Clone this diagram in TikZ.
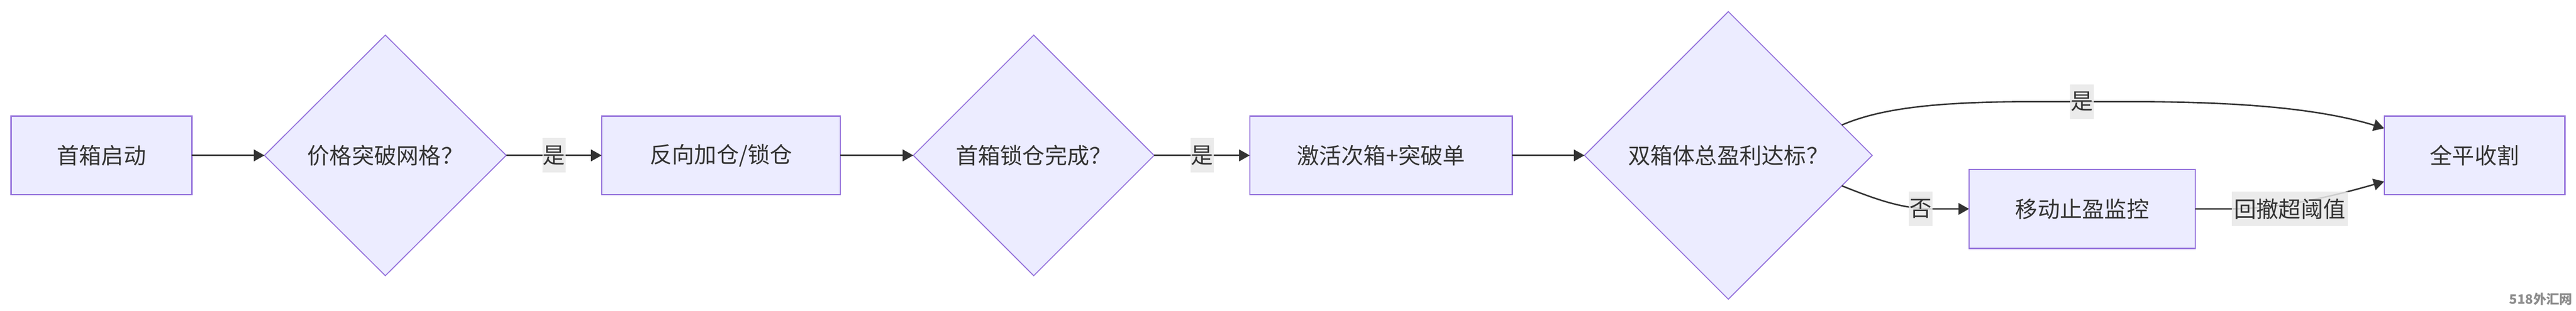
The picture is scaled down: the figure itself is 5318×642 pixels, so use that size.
\documentclass[tikz,border=0pt]{standalone}
\usepackage{fontspec}
\setmainfont{Noto Sans CJK SC}
\usetikzlibrary{shapes.geometric, arrows.meta}
\definecolor{nodefill}{HTML}{ECECFF}
\definecolor{nodeline}{HTML}{9370DB}
\definecolor{ink}{HTML}{333333}
\definecolor{lblbg}{HTML}{E8E8E8}
\definecolor{wmgray}{HTML}{8C8C8C}
\begin{document}
\begin{tikzpicture}[x=1pt, y=-1pt,
  every node/.style={font=\fontsize{46}{56}\selectfont, text=ink},
  procbox/.style={rectangle, draw=nodeline, fill=nodefill, line width=2.5pt, minimum height=162pt, inner sep=0pt, outer sep=0pt},
  decbox/.style={diamond, aspect=1, draw=nodeline, fill=nodefill, line width=2pt, inner sep=0pt, outer sep=0pt},
  flow/.style={draw=ink, line width=3pt, -{Triangle[length=22pt, width=24pt]}},
  lbl/.style={fill=lblbg, fill opacity=0.85, text opacity=1, inner sep=0pt, minimum width=48pt, minimum height=71pt},
]
\useasboundingbox (0,0) rectangle (5318,642);
\node[procbox, minimum width=373pt] (A) at (209.5,321) {首箱启动};
\node[decbox, minimum width=499pt, minimum height=497pt] (B) at (795.5,321) {价格突破网格？};
\node[procbox, minimum width=493pt] (C) at (1488.5,321) {反向加仓/锁仓};
\node[decbox, minimum width=497pt, minimum height=497pt] (D) at (2134,321) {首箱锁仓完成？};
\node[procbox, minimum width=542pt] (E) at (2851,321) {激活次箱+突破单};
\node[decbox, minimum width=594pt, minimum height=594pt] (F) at (3568,321) {双箱体总盈利达标？};
\node[procbox, minimum width=467pt, minimum height=163pt] (G) at (4298.5,431.5) {移动止盈监控};
\node[procbox, minimum width=373pt] (H) at (5108.5,321) {全平收割};

\coordinate (t1) at (4196,210);
\coordinate (t2) at (4400,210);
\coordinate (n1) at (3990,431.5);
\coordinate (r1) at (4600,431.5);

\draw[flow] (A) -- (B);
\draw[flow] (B) -- (C);
\draw[flow] (C) -- (D);
\draw[flow] (D) -- (E);
\draw[flow] (E) -- (F);
\draw[flow] (F.15) .. controls (3880,225) and (3990,210) .. (t1) -- (t2) .. controls (4650,210) and (4800,228) .. ([yshift=56pt]H.west);
\draw[flow] (F.-15) .. controls (3880,415) and (3930,431.5) .. (n1) -- (G.west);
\draw[flow] (G.east) -- (r1) .. controls (4700,431.5) and (4800,410) .. ([yshift=-54pt]H.west);

\node[lbl] (l1) at (1143.5,321) {是};
\node[lbl] (l2) at (2481.5,321) {是};
\node[lbl] (l3) at (4298,210) {是};
\node[lbl] (l4) at (3965,431.5) {否};
\node[lbl, minimum width=240pt] (l5) at (4727,431.5) {回撤超阈值};

\node[font=\fontsize{27}{30}\selectfont\bfseries, text=wmgray, anchor=east, inner sep=0pt] (wm) at (5311,618) {518外汇网};
\end{tikzpicture}
\end{document}
